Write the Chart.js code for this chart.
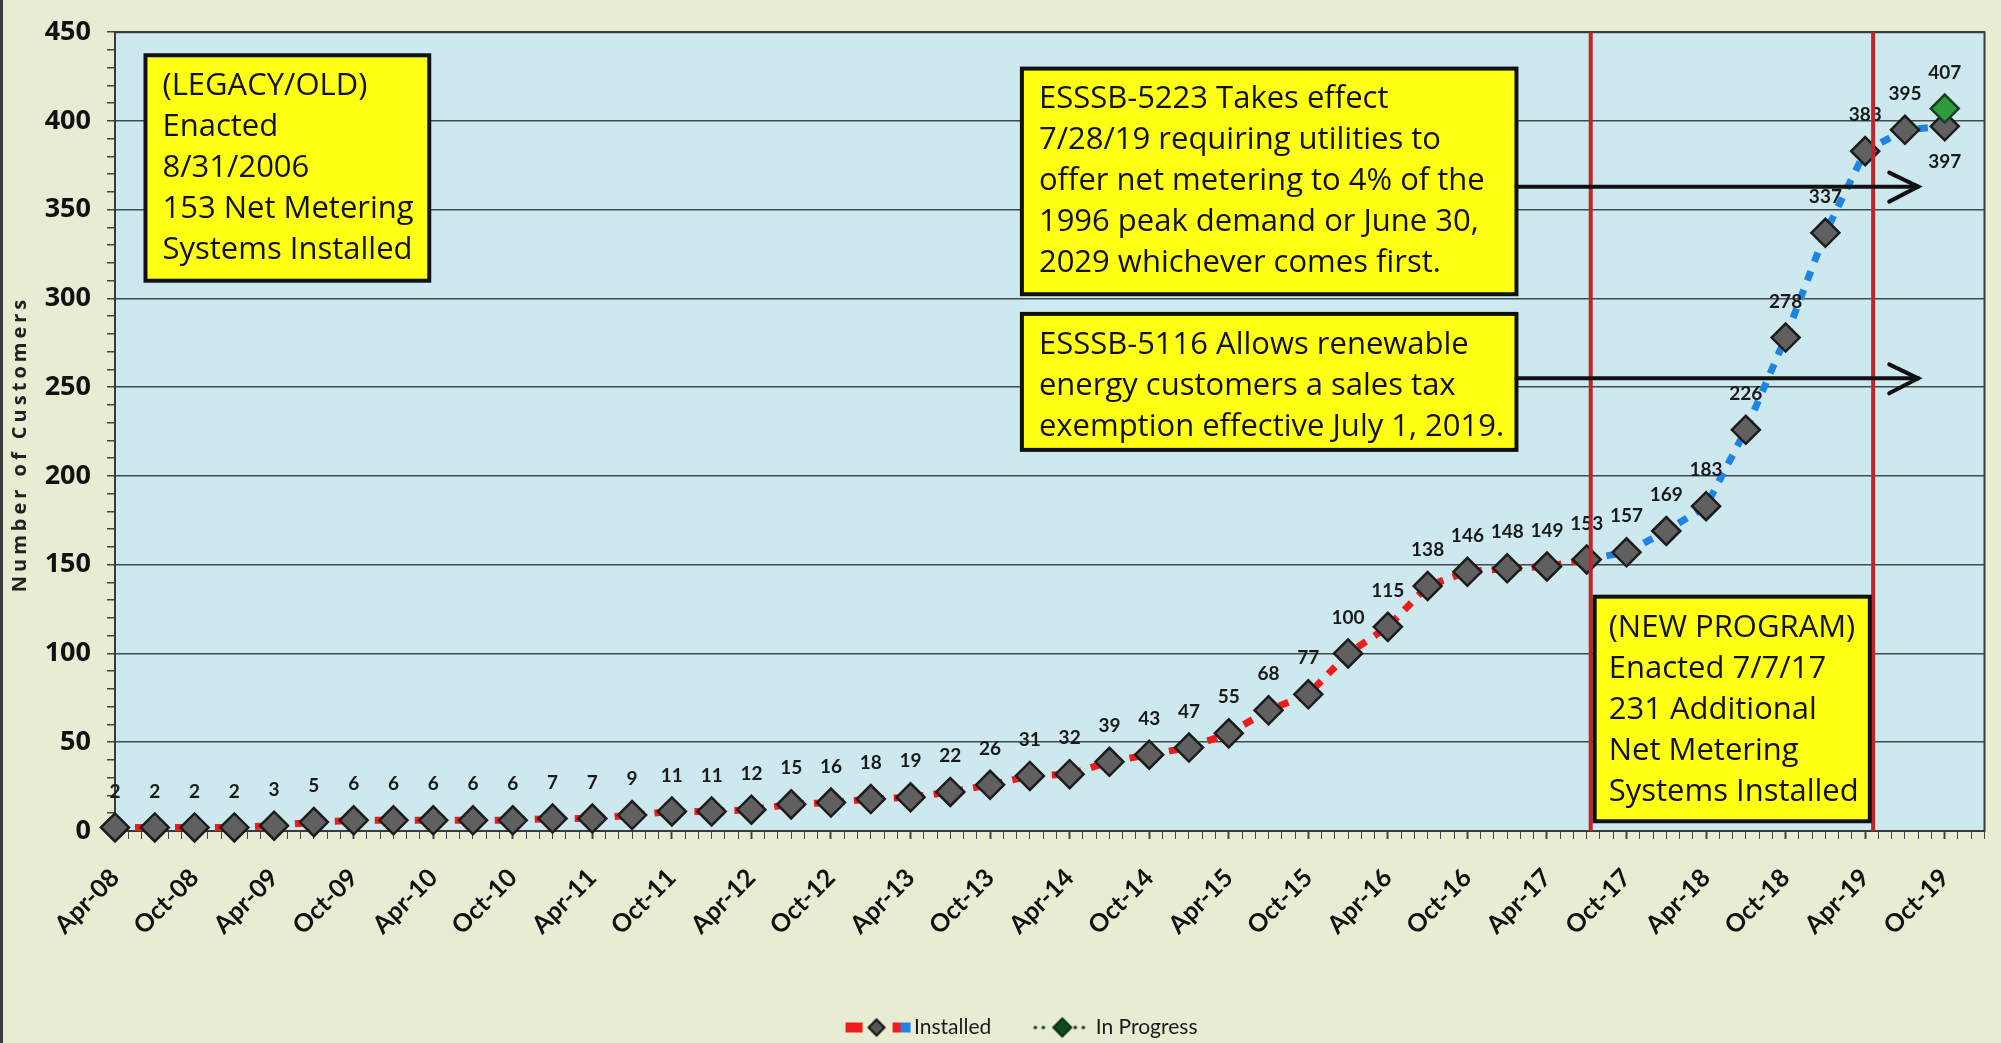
<!DOCTYPE html>
<html lang="en">
<head>
    <meta charset="UTF-8">
    <title>Net Metering Customers</title>
    <script src="https://cdn.jsdelivr.net/npm/chart.js"></script>
    <style>
        html, body { margin: 0; padding: 0; background: #e8ecd2; }
        #wrap { width: 2001px; height: 1043px; }
    </style>
</head>
<body>
<div id="wrap"><canvas id="netChart" width="2001" height="1043"></canvas></div>
<script>
    // --- data ---
    const quarters = [
        'Apr-08', 'Jul-08', 'Oct-08',
        'Jan-09', 'Apr-09', 'Jul-09', 'Oct-09',
        'Jan-10', 'Apr-10', 'Jul-10', 'Oct-10',
        'Jan-11', 'Apr-11', 'Jul-11', 'Oct-11',
        'Jan-12', 'Apr-12', 'Jul-12', 'Oct-12',
        'Jan-13', 'Apr-13', 'Jul-13', 'Oct-13',
        'Jan-14', 'Apr-14', 'Jul-14', 'Oct-14',
        'Jan-15', 'Apr-15', 'Jul-15', 'Oct-15',
        'Jan-16', 'Apr-16', 'Jul-16', 'Oct-16',
        'Jan-17', 'Apr-17', 'Jul-17', 'Oct-17',
        'Jan-18', 'Apr-18', 'Jul-18', 'Oct-18',
        'Jan-19', 'Apr-19', 'Jul-19', 'Oct-19'
    ];
    const installed = [
        2, 2, 2,
        2, 3, 5, 6,
        6, 6, 6, 6,
        7, 7, 9, 11,
        11, 12, 15, 16,
        18, 19, 22, 26,
        31, 32, 39, 43,
        47, 55, 68, 77,
        100, 115, 138, 146,
        148, 149, 153, 157,
        169, 183, 226, 278,
        337, 383, 395, 397
    ];
    const inProgressQuarters = ['Oct-19'];
    const inProgress = [407];

    const tickLabels = [
        'Apr-08', 'Oct-08', 'Apr-09', 'Oct-09', 'Apr-10', 'Oct-10',
        'Apr-11', 'Oct-11', 'Apr-12', 'Oct-12', 'Apr-13', 'Oct-13',
        'Apr-14', 'Oct-14', 'Apr-15', 'Oct-15', 'Apr-16', 'Oct-16',
        'Apr-17', 'Oct-17', 'Apr-18', 'Oct-18', 'Apr-19', 'Oct-19'
    ];
    const yTicks = [0, 50, 100, 150, 200, 250, 300, 350, 400, 450];

    const axisStart = 'Apr-08';
    const axisEnd = 'Jan-20';
    const newProgramStart = 'Jul-17';   // line turns blue from here
    const labelBelow = ['Oct-19'];      // installed label drawn under the marker

    // --- annotations (x in months from Apr-08, y in customers) ---
    const programLines = [111.3, 132.6];
    const noteBoxes = [
        { x0: 2.3, x1: 23.7, y0: 437, y1: 310, pad: 17,
          lines: ['(LEGACY/OLD)', 'Enacted', '8/31/2006', '153 Net Metering', 'Systems Installed'] },
        { x0: 68.4, x1: 105.7, y0: 429.5, y1: 302.4, pad: 17,
          lines: ['ESSSB-5223 Takes effect', '7/28/19 requiring utilities to', 'offer net metering to 4% of the',
                  '1996 peak demand or June 30,', '2029 whichever comes first.'] },
        { x0: 68.4, x1: 105.7, y0: 291.3, y1: 214.7, pad: 17,
          lines: ['ESSSB-5116 Allows renewable', 'energy customers a sales tax', 'exemption effective July 1, 2019.'] },
        { x0: 111.6, x1: 132.35, y0: 132, y1: 5.5, pad: 14,
          lines: ['(NEW PROGRAM)', 'Enacted 7/7/17', '231 Additional', 'Net Metering', 'Systems Installed'] }
    ];
    const arrows = [
        { x0: 105.7, x1: 136, y: 363 },
        { x0: 105.7, x1: 136, y: 255 }
    ];

    const RED = '#f01c1c';
    const BLUE = '#1e84e4';
    const GREY = '#606060';
    const OUTER_BG = '#e8ecd2';
    const PLOT_BG = '#cde8ee';

    const MONTHS = ['Jan', 'Feb', 'Mar', 'Apr', 'May', 'Jun', 'Jul', 'Aug', 'Sep', 'Oct', 'Nov', 'Dec'];
    function monthIndex(label) {
        const [mon, yy] = label.split('-');
        return (Number(yy) - 8) * 12 + MONTHS.indexOf(mon) - 3;
    }

    const xMin = monthIndex(axisStart);
    const xMax = monthIndex(axisEnd);
    const xTickMap = {};
    tickLabels.forEach(l => { xTickMap[monthIndex(l)] = l; });
    const blueFrom = quarters.indexOf(newProgramStart);

    // legend icons
    function makeIcon(kind) {
        const c = document.createElement('canvas');
        c.width = 82; c.height = 24;
        const g = c.getContext('2d');
        function diamond(cx, cy, r, fill, stroke) {
            g.beginPath();
            g.moveTo(cx, cy - r); g.lineTo(cx + r, cy); g.lineTo(cx, cy + r); g.lineTo(cx - r, cy);
            g.closePath();
            g.fillStyle = fill; g.fill();
            g.lineWidth = 2; g.strokeStyle = stroke; g.stroke();
        }
        if (kind === 'installed') {
            g.fillStyle = RED; g.fillRect(16, 7, 17, 10);
            diamond(47, 12, 8, '#555', '#111');
            g.fillStyle = RED; g.fillRect(63, 7, 8, 10);
            g.fillStyle = BLUE; g.fillRect(71, 7, 10, 10);
        } else {
            g.fillStyle = '#1d2d20';
            [24, 32].forEach(x => { g.beginPath(); g.arc(x, 12, 1.8, 0, Math.PI * 2); g.fill(); });
            diamond(51, 12, 9, '#0f4a22', '#0b2e16');
            g.fillStyle = '#1d2d20';
            [64, 72].forEach(x => { g.beginPath(); g.arc(x, 12, 1.8, 0, Math.PI * 2); g.fill(); });
        }
        return c;
    }
    const legendIcons = [makeIcon('installed'), makeIcon('progress')];

    const decorPlugin = {
        id: 'decor',
        beforeDraw(chart) {
            const { ctx, chartArea: a } = chart;
            ctx.save();
            ctx.fillStyle = OUTER_BG;
            ctx.fillRect(0, 0, chart.width, chart.height);
            ctx.fillStyle = PLOT_BG;
            ctx.fillRect(a.left, a.top, a.right - a.left, a.bottom - a.top);
            ctx.fillStyle = '#3a3a3a';
            ctx.fillRect(0, 0, 3, chart.height);
            ctx.restore();
        },
        beforeDatasetsDraw(chart) {
            const { ctx, chartArea: a } = chart;
            ctx.save();
            ctx.strokeStyle = '#3a3a3a';
            ctx.lineWidth = 2;
            ctx.strokeRect(a.left, a.top, a.right - a.left, a.bottom - a.top);
            ctx.restore();
        },
        afterDatasetsDraw(chart) {
            const { ctx, chartArea: a } = chart;
            const xs = chart.scales.x, ys = chart.scales.y;
            ctx.save();

            // value labels
            ctx.font = 'bold 19px Lato';
            ctx.fillStyle = '#1a1a1a';
            ctx.textAlign = 'center';
            ctx.textBaseline = 'middle';
            chart.data.datasets.forEach((ds, di) => {
                const meta = chart.getDatasetMeta(di);
                meta.data.forEach((pt, i) => {
                    const q = di === 0 ? quarters[i] : inProgressQuarters[i];
                    const below = di === 0 && labelBelow.includes(q);
                    ctx.fillText(String(ds.data[i].y), pt.x, pt.y + (below ? 36 : -36));
                });
            });

            // program boundary lines
            ctx.strokeStyle = '#c0252c';
            ctx.lineWidth = 4;
            programLines.forEach(m => {
                const x = xs.getPixelForValue(m);
                ctx.beginPath(); ctx.moveTo(x, a.top); ctx.lineTo(x, a.bottom); ctx.stroke();
            });

            // text boxes
            noteBoxes.forEach(b => {
                const x0 = xs.getPixelForValue(b.x0), x1 = xs.getPixelForValue(b.x1);
                const y0 = ys.getPixelForValue(b.y0), y1 = ys.getPixelForValue(b.y1);
                ctx.fillStyle = '#ffff14';
                ctx.fillRect(x0, y0, x1 - x0, y1 - y0);
                ctx.strokeStyle = '#111';
                ctx.lineWidth = 4;
                ctx.strokeRect(x0, y0, x1 - x0, y1 - y0);
                ctx.fillStyle = '#111';
                ctx.font = '31px "Open Sans"';
                ctx.textAlign = 'left';
                ctx.textBaseline = 'middle';
                b.lines.forEach((line, i) => {
                    ctx.fillText(line, x0 + b.pad, y0 + 31 + i * 41, x1 - x0 - b.pad - 8);
                });
            });

            // arrows
            ctx.strokeStyle = '#111';
            ctx.lineWidth = 4;
            ctx.lineCap = 'round';
            arrows.forEach(ar => {
                const x0 = xs.getPixelForValue(ar.x0), x1 = xs.getPixelForValue(ar.x1);
                const y = ys.getPixelForValue(ar.y);
                ctx.beginPath(); ctx.moveTo(x0, y); ctx.lineTo(x1, y); ctx.stroke();
                ctx.beginPath();
                ctx.moveTo(x1 - 29, y - 14); ctx.lineTo(x1, y); ctx.lineTo(x1 - 29, y + 15);
                ctx.stroke();
            });
            ctx.restore();
        },
        afterDraw(chart) {
            const { ctx } = chart;
            ctx.save();
            ctx.translate(20, 444);
            ctx.rotate(-Math.PI / 2);
            ctx.letterSpacing = '4px';
            ctx.font = 'bold 20px "Open Sans"';
            ctx.fillStyle = '#222';
            ctx.textAlign = 'center';
            ctx.textBaseline = 'middle';
            ctx.fillText('Number of Customers', 0, 0);
            ctx.restore();
        },
        afterLayout(chart) {
            // nudge the legend to where the reference has it
            const lg = chart.legend;
            if (lg) { lg.top += 5; lg.bottom += 5; lg.left += 24; lg.right += 24; }
        }
    };

    const ctx = document.getElementById('netChart').getContext('2d');
    new Chart(ctx, {
        type: 'line',
        data: {
            datasets: [
                {
                    label: 'Installed',
                    data: quarters.map((q, i) => ({ x: monthIndex(q), y: installed[i] })),
                    order: 1,
                    borderColor: RED,
                    borderWidth: 7,
                    borderDash: [10, 10],
                    segment: { borderColor: c => c.p0DataIndex >= blueFrom ? BLUE : RED },
                    pointStyle: 'rectRot',
                    pointRadius: 14,
                    pointBackgroundColor: GREY,
                    pointBorderColor: '#1c1c1c',
                    pointBorderWidth: 2.5,
                    tension: 0,
                    clip: false
                },
                {
                    label: 'In Progress',
                    data: inProgressQuarters.map((q, i) => ({ x: monthIndex(q), y: inProgress[i] })),
                    order: 0,
                    showLine: false,
                    borderColor: '#1d2d20',
                    borderWidth: 3,
                    borderDash: [3, 5],
                    pointStyle: 'rectRot',
                    pointRadius: 14,
                    pointBackgroundColor: '#2f9a3c',
                    pointBorderColor: '#14421e',
                    pointBorderWidth: 2.5,
                    clip: false
                }
            ]
        },
        options: {
            responsive: false,
            animation: false,
            devicePixelRatio: 1,
            events: [],
            layout: { padding: { top: 20, right: 14, left: 0, bottom: 0 } },
            plugins: {
                tooltip: { enabled: false },
                legend: {
                    position: 'bottom',
                    labels: {
                        usePointStyle: true,
                        pointStyleWidth: 66,
                        padding: 28,
                        color: '#1a1a1a',
                        font: { family: 'Lato', size: 21 },
                        generateLabels: chart => chart.data.datasets.map((ds, i) => ({
                            text: ds.label,
                            pointStyle: legendIcons[i],
                            fillStyle: 'transparent',
                            strokeStyle: 'transparent',
                            lineWidth: 0,
                            hidden: false,
                            datasetIndex: i,
                            fontColor: '#1a1a1a'
                        }))
                    }
                }
            },
            scales: {
                x: {
                    type: 'linear',
                    min: xMin,
                    max: xMax,
                    afterBuildTicks: scale => {
                        const t = [];
                        for (let m = xMin; m <= xMax; m++) t.push({ value: m });
                        scale.ticks = t;
                    },
                    afterFit: scale => {
                        const lh = scale.chart.legend ? scale.chart.legend.height : 0;
                        scale.height = scale.chart.height - lh - 831;
                        scale.paddingLeft = 0;
                        scale.paddingRight = 0;
                    },
                    ticks: {
                        autoSkip: false,
                        maxRotation: 45,
                        minRotation: 45,
                        padding: 24,
                        color: '#111',
                        font: { family: 'Lato', size: 25, weight: 'bold' },
                        callback: v => xTickMap[v] || ''
                    },
                    grid: {
                        drawOnChartArea: false,
                        tickLength: 8,
                        tickColor: '#444',
                        tickWidth: c => (c.tick && xTickMap[c.tick.value]) ? 2 : 1
                    },
                    border: { color: '#333', width: 2 }
                },
                y: {
                    min: 0,
                    max: 450,
                    afterBuildTicks: scale => {
                        const t = [];
                        for (let v = 0; v <= 450; v += 10) t.push({ value: v });
                        scale.ticks = t;
                    },
                    afterFit: scale => { scale.width = 115; },
                    ticks: {
                        autoSkip: false,
                        padding: 16,
                        color: '#111',
                        font: { family: 'Open Sans', size: 27, weight: 'bold' },
                        callback: v => yTicks.includes(v) ? String(v) : ''
                    },
                    grid: {
                        color: c => (c.tick && yTicks.includes(c.tick.value)) ? '#3f4b4d' : 'rgba(0,0,0,0)',
                        lineWidth: 1.5,
                        tickLength: 8,
                        tickColor: '#444'
                    },
                    border: { color: '#333', width: 2 }
                }
            }
        },
        plugins: [decorPlugin]
    });
</script>
</body>
</html>
